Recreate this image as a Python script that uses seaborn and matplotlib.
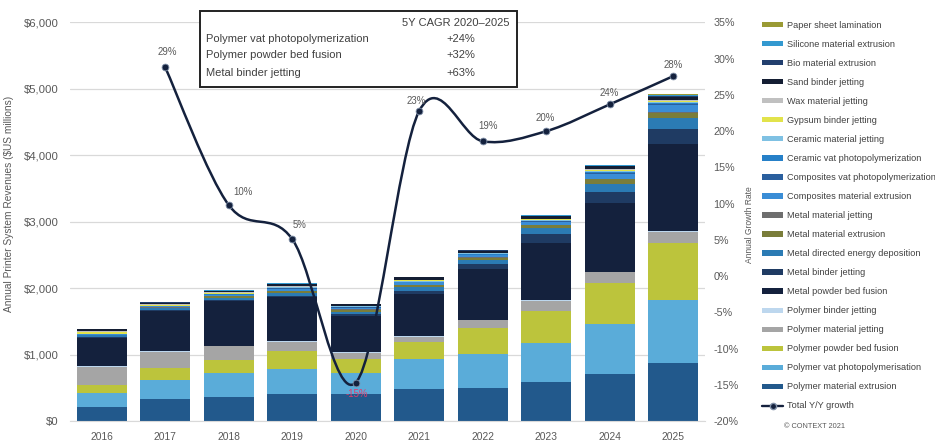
import matplotlib
matplotlib.use("Agg")
import matplotlib.pyplot as plt
from matplotlib import font_manager
from matplotlib.patches import Patch, Rectangle, PathPatch
from matplotlib.lines import Line2D
from matplotlib.path import Path
from matplotlib.ticker import FuncFormatter, PercentFormatter, MultipleLocator
import seaborn as sns
import pandas as pd

# --- data ---
years = [2016, 2017, 2018, 2019, 2020, 2021, 2022, 2023, 2024, 2025]

paper_sheet_lamination = [3, 5, 4, 4, 3, 4, 4, 5, 9, 13]
silicone_material_extrusion = [2, 2, 3, 4, 3, 4, 4, 5, 8, 10]
bio_material_extrusion = [3, 3, 3, 5, 4, 5, 5, 7, 10, 15]
sand_binder_jetting = [30, 20, 25, 30, 20, 35, 30, 35, 45, 45]
wax_material_jetting = [10, 10, 10, 10, 8, 10, 10, 12, 15, 25]
gypsum_binder_jetting = [25, 15, 10, 10, 5, 5, 5, 5, 5, 5]
ceramic_material_jetting = [5, 7, 8, 10, 10, 12, 12, 15, 20, 25]
ceramic_vat_photopolymerization = [3, 3, 4, 5, 5, 6, 6, 8, 12, 15]
composites_vat_photopolymerization = [3, 3, 4, 5, 5, 6, 6, 8, 10, 15]
composites_material_extrusion = [10, 15, 20, 30, 25, 35, 35, 50, 75, 100]
metal_material_jetting = [2, 2, 3, 3, 3, 4, 4, 5, 6, 8]
metal_material_extrusion = [3, 5, 20, 30, 30, 35, 40, 45, 70, 86]
metal_directed_energy_deposition = [25, 30, 40, 45, 40, 55, 60, 90, 126, 167]
metal_binder_jetting = [10, 10, 12, 15, 25, 50, 76, 126, 161, 227]
metal_powder_bed_fusion = [430, 610, 670, 670, 550, 635, 755, 865, 1040, 1300]
polymer_binder_jetting = [8, 8, 8, 8, 8, 8, 10, 10, 12, 15]
polymer_material_jetting = [278, 242, 207, 141, 85, 75, 121, 151, 156, 176]
polymer_powder_bed_fusion = [111, 192, 197, 263, 211, 261, 387, 487, 618, 844]
polymer_vat_photopolymerisation = [212, 283, 368, 374, 327, 453, 518, 588, 758, 955]
polymer_material_extrusion = [217, 328, 354, 414, 402, 477, 492, 583, 704, 874]

growth_years = years[1:]
growth = [0.288, 0.098, 0.051, -0.147, 0.228, 0.186, 0.200, 0.237, 0.276]

cagr_header = "5Y CAGR 2020\u20132025"
cagr_tech = ["Polymer vat photopolymerization", "Polymer powder bed fusion", "Metal binder jetting"]
cagr_values = ["+24%", "+32%", "+63%"]

# legend order (top of stack first)
segments = [
    ("Paper sheet lamination", paper_sheet_lamination, "#9A9A34"),
    ("Silicone material extrusion", silicone_material_extrusion, "#3399D0"),
    ("Bio material extrusion", bio_material_extrusion, "#223F6E"),
    ("Sand binder jetting", sand_binder_jetting, "#141E33"),
    ("Wax material jetting", wax_material_jetting, "#C0C0C0"),
    ("Gypsum binder jetting", gypsum_binder_jetting, "#E2E34B"),
    ("Ceramic material jetting", ceramic_material_jetting, "#7FC1E3"),
    ("Ceramic vat photopolymerization", ceramic_vat_photopolymerization, "#2680C8"),
    ("Composites vat photopolymerization", composites_vat_photopolymerization, "#2A5F9E"),
    ("Composites material extrusion", composites_material_extrusion, "#3A8DD6"),
    ("Metal material jetting", metal_material_jetting, "#6E6E6E"),
    ("Metal material extrusion", metal_material_extrusion, "#7A7D3A"),
    ("Metal directed energy deposition", metal_directed_energy_deposition, "#2B7BB4"),
    ("Metal binder jetting", metal_binder_jetting, "#1F3B63"),
    ("Metal powder bed fusion", metal_powder_bed_fusion, "#14213D"),
    ("Polymer binder jetting", polymer_binder_jetting, "#BDD7EE"),
    ("Polymer material jetting", polymer_material_jetting, "#A5A5A5"),
    ("Polymer powder bed fusion", polymer_powder_bed_fusion, "#BCC43C"),
    ("Polymer vat photopolymerisation", polymer_vat_photopolymerisation, "#5AACD9"),
    ("Polymer material extrusion", polymer_material_extrusion, "#22598C"),
]
seg_names = [s[0] for s in segments]
seg_colors = [s[2] for s in segments]

rows = []
for name, vals, _ in segments:
    for y, v in zip(years, vals):
        rows.append({"year": y, "segment": name, "value": v})
df = pd.DataFrame(rows)

# --- style ---
sns.set_style("white")
names = {f.name for f in font_manager.fontManager.ttflist}
if "Liberation Sans Narrow" in names:
    FONT, k = "Liberation Sans Narrow", 1.0
else:
    FONT, k = "Liberation Sans", 0.82
plt.rcParams["font.family"] = [FONT, "DejaVu Sans"]
plt.rcParams["axes.unicode_minus"] = False

GREY = "#595959"
NAVY = "#14213D"

fig = plt.figure(figsize=(9.35, 4.42), dpi=100)
ax = fig.add_axes([70 / 935, 1 - 421 / 442, 635 / 935, 398.5 / 442])

sns.histplot(data=df, x="year", weights="value", hue="segment", hue_order=seg_names,
             palette=seg_colors, multiple="stack", discrete=True, shrink=0.79,
             alpha=1, linewidth=0, legend=False, ax=ax)

ax.set_xlim(2015.5, 2025.5)
ax.set_ylim(0, 6000)
ax.set_xticks(years)
ax.yaxis.set_major_locator(MultipleLocator(1000))
ax.yaxis.set_major_formatter(FuncFormatter(lambda v, p: f"\\${v:,.0f}"))
ax.tick_params(axis="x", length=0, labelsize=9 * k, colors=GREY, pad=8)
ax.tick_params(axis="y", length=0, labelsize=10 * k, colors=GREY, pad=8)
ax.yaxis.grid(True, color="#D9D9D9", lw=0.9)
ax.set_axisbelow(True)
for s in ["top", "right", "left"]:
    ax.spines[s].set_visible(False)
ax.spines["bottom"].set_color("#D9D9D9")
ax.set_xlabel("")
ax.set_ylabel("Annual Printer System Revenues (\\$US millions)", fontsize=8.9 * k, color=GREY)
ax.yaxis.set_label_coords((14 - 70) / 635, (421 - 204) / 398.5)

# --- growth line on secondary axis ---
ax2 = ax.twinx()
ax2.set_ylim(-0.20, 0.35)
ax2.yaxis.set_major_locator(MultipleLocator(0.05))
ax2.yaxis.set_major_formatter(PercentFormatter(1.0, decimals=0))
ax2.tick_params(axis="y", length=0, labelsize=9.5 * k, colors=GREY, pad=6)
for s in ax2.spines.values():
    s.set_visible(False)
ax2.set_ylabel("Annual Growth Rate", fontsize=7.5 * k, color=GREY)
ax2.yaxis.set_label_coords((745 - 70) / 635, (421 - 225) / 398.5)

# smoothed line through the points (Catmull-Rom style bezier, like a spreadsheet "smoothed line")
pts = list(zip(growth_years, growth))
verts, codes = [pts[0]], [Path.MOVETO]
n = len(pts)
for i in range(n - 1):
    p0 = pts[max(i - 1, 0)]
    p1, p2 = pts[i], pts[i + 1]
    p3 = pts[min(i + 2, n - 1)]
    c1 = (p1[0] + (p2[0] - p0[0]) / 6, p1[1] + (p2[1] - p0[1]) / 6)
    c2 = (p2[0] - (p3[0] - p1[0]) / 6, p2[1] - (p3[1] - p1[1]) / 6)
    verts += [c1, c2, p2]
    codes += [Path.CURVE4] * 3
ax2.add_patch(PathPatch(Path(verts, codes), fill=False, edgecolor=NAVY, lw=1.8, zorder=4))
sns.scatterplot(x=growth_years, y=growth, ax=ax2, color=NAVY, s=24,
                edgecolor="#8090A8", linewidth=0.6, zorder=5, legend=False)

label_offsets = [(2, 15), (14, 13), (7, 14), (1, -11), (-3, 10), (5, 15), (-1, 13), (0, 11), (0, 11)]
for (x, y), (dx, dy) in zip(pts, label_offsets):
    ax2.annotate(f"{y:.0%}", (x, y), xytext=(dx, dy), textcoords="offset pixels",
                 ha="center", va="center", fontsize=8.5 * k,
                 color="#E03C6E" if y < 0 else GREY, zorder=6)

# --- CAGR box ---
fig.patches.append(Rectangle((200 / 935, 1 - 87 / 442), 317 / 935, 76 / 442,
                             transform=fig.transFigure, facecolor="white",
                             edgecolor="#222222", lw=1.4, zorder=10))
box_font = ["Liberation Sans", "DejaVu Sans"]
fig.text(456 / 935, 1 - 22.5 / 442, cagr_header, ha="center", va="center",
         fontsize=8, color="#404040", family=box_font, zorder=11)
for yy, t, v in zip([39, 55, 73], cagr_tech, cagr_values):
    fig.text(206 / 935, 1 - yy / 442, t, ha="left", va="center", fontsize=8,
             color="#404040", family=box_font, zorder=11)
    fig.text(461 / 935, 1 - yy / 442, v, ha="center", va="center", fontsize=8,
             color="#404040", family=box_font, zorder=11)

# --- legend ---
handles = [Patch(facecolor=c, edgecolor="none", label=nm) for nm, c in zip(seg_names, seg_colors)]
handles.append(Line2D([], [], color=NAVY, lw=1.7, marker="o", markersize=4.5,
                      markeredgecolor="#8090A8", label="Total Y/Y growth"))
fs = 8 * k
fs_px = fs * 100 / 72
fig.legend(handles=handles, loc="upper left", bbox_to_anchor=(762 / 935, 1 - 21 / 442),
           frameon=False, fontsize=fs, labelcolor="#404040", borderpad=0, borderaxespad=0,
           handlelength=21 / fs_px, handleheight=0.5,
           handletextpad=4 / fs_px, labelspacing=1.1)

fig.text(814 / 935, 1 - 427 / 442, "\u00a9 CONTEXT 2021", ha="center", va="center",
         fontsize=6.5 * k, color=GREY)

fig.savefig("out.png", dpi=100)
